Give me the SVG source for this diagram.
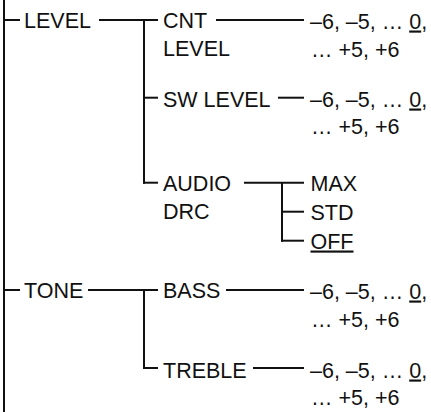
<svg xmlns="http://www.w3.org/2000/svg" width="431" height="412" viewBox="0 0 431 412">
<style>
text{font-family:"Liberation Sans",Arial,sans-serif;font-size:21.5px;fill:#111}
.c line{stroke:#111;stroke-width:2;fill:none}
.u{text-decoration:underline}
</style>
<rect width="431" height="412" fill="#fff"/>
<g id="connectors" class="c">
<line x1="4" y1="0" x2="4" y2="412"/>
<line x1="3" y1="20" x2="20" y2="20"/>
<line x1="99" y1="20" x2="145" y2="20"/>
<line x1="144" y1="19" x2="144" y2="183.7"/>
<line x1="144" y1="20" x2="158" y2="20"/>
<line x1="216" y1="20" x2="304" y2="20"/>
<line x1="144" y1="97.7" x2="158" y2="97.7"/>
<line x1="278" y1="97.7" x2="304" y2="97.7"/>
<line x1="143" y1="182.7" x2="158" y2="182.7"/>
<line x1="244" y1="182.7" x2="304" y2="182.7"/>
<line x1="282" y1="182.7" x2="282" y2="241.7"/>
<line x1="282" y1="211.7" x2="304" y2="211.7"/>
<line x1="281" y1="240.7" x2="304" y2="240.7"/>
<line x1="3" y1="290" x2="20" y2="290"/>
<line x1="88" y1="290" x2="145" y2="290"/>
<line x1="144" y1="289" x2="144" y2="369"/>
<line x1="144" y1="290" x2="158" y2="290"/>
<line x1="226" y1="290" x2="304" y2="290"/>
<line x1="143" y1="368" x2="158" y2="368"/>
<line x1="253" y1="368" x2="304" y2="368"/>
</g>
<g id="level"><text x="24" y="27.5">LEVEL</text></g>
<g id="cnt-level"><text x="163" y="27.5">CNT</text><text x="163" y="56">LEVEL</text></g>
<g id="cnt-values"><text x="310" y="28.5">–6, –5, … <tspan class="u">0</tspan>,</text><text x="311" y="56.5">… +5, +6</text></g>
<g id="sw-level"><text x="163" y="106.5">SW LEVEL</text></g>
<g id="sw-values"><text x="310" y="106.5">–6, –5, … <tspan class="u">0</tspan>,</text><text x="311" y="133.5">… +5, +6</text></g>
<g id="audio-drc"><text x="163" y="190.5">AUDIO</text><text x="163" y="218.5">DRC</text></g>
<g id="max"><text x="310.5" y="190.5">MAX</text></g>
<g id="std"><text x="310.5" y="219.5">STD</text></g>
<g id="off"><text x="310.5" y="248.5" class="u">OFF</text></g>
<g id="tone"><text x="24" y="297.5">TONE</text></g>
<g id="bass"><text x="163" y="297.5">BASS</text></g>
<g id="bass-values"><text x="310" y="298.5">–6, –5, … <tspan class="u">0</tspan>,</text><text x="311" y="326.5">… +5, +6</text></g>
<g id="treble"><text x="163" y="378">TREBLE</text></g>
<g id="treble-values"><text x="310" y="377.5">–6, –5, … <tspan class="u">0</tspan>,</text><text x="311" y="405">… +5, +6</text></g>
</svg>
